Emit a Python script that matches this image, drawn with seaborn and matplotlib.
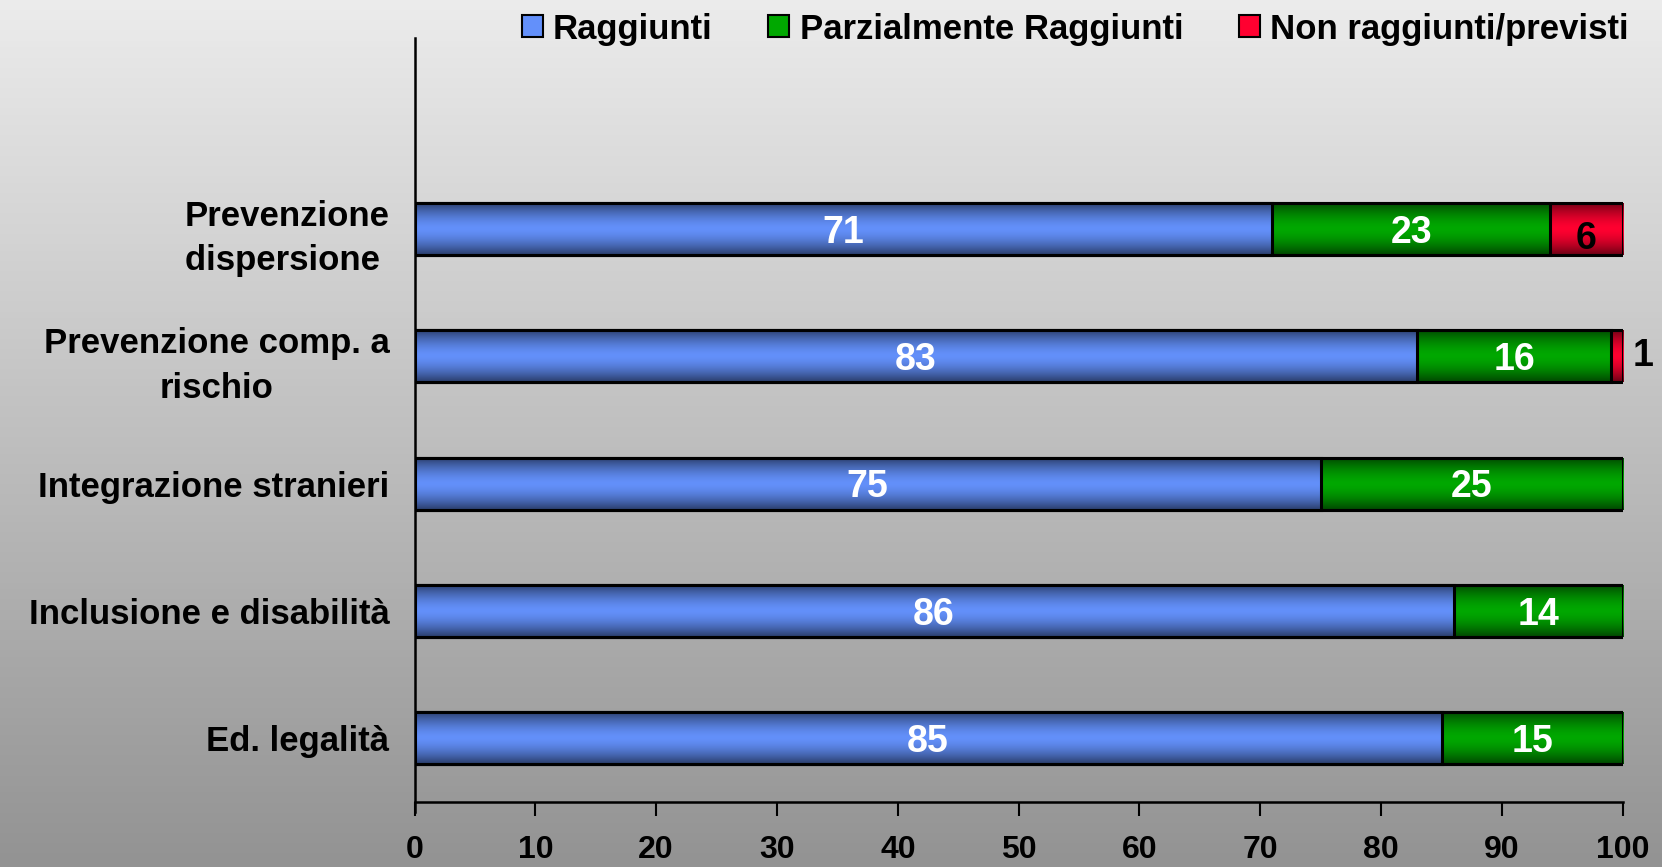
import numpy as np
import pandas as pd
import matplotlib
matplotlib.use("Agg")
import matplotlib.pyplot as plt
import seaborn as sns
from matplotlib.colors import to_rgb
from matplotlib.patches import Patch

categories = ["Prevenzione\ndispersione ", "Prevenzione comp. a\nrischio",
              "Integrazione stranieri", "Inclusione e disabilità", "Ed. legalità"]
raggiunti = [71, 83, 75, 86, 85]
parziali = [23, 16, 25, 14, 15]
non_ragg = [6, 1, 0, 0, 0]
series_names = ["Raggiunti", "Parzialmente Raggiunti", "Non raggiunti/previsti"]
xticks = [0, 10, 20, 30, 40, 50, 60, 70, 80, 90, 100]

colors = ["#6390FA", "#00A800", "#FF0030"]

sns.set_theme(style="white")
plt.rcParams['font.family'] = ['Liberation Sans', 'DejaVu Sans']
plt.rcParams['text.color'] = 'black'
plt.rcParams['xtick.color'] = 'black'
plt.rcParams['ytick.color'] = 'black'
plt.rcParams['xtick.labelcolor'] = 'black'
plt.rcParams['ytick.labelcolor'] = 'black'

W, H = 1662, 867
fig = plt.figure(figsize=(W / 100, H / 100), dpi=100)

# background gradient
bg = fig.add_axes([0, 0, 1, 1], zorder=-10)
grad = np.linspace(0, 1, 256)[:, None]
top = np.array([0.925, 0.925, 0.925])
bot = np.array([0.575, 0.575, 0.575])
img = top[None, None, :] * (1 - grad[:, :, None]) + bot[None, None, :] * grad[:, :, None]
bg.imshow(img, aspect="auto", extent=[0, 1, 0, 1])
bg.set_axis_off()

left = 414.5 / W
right = 1622.8 / W
bottom = (H - 802) / H
topf = (H - 38) / H
ax = fig.add_axes([left, bottom, right - left, topf - bottom])
ax.patch.set_alpha(0)

df = pd.DataFrame({"cat": categories, "r": raggiunti, "p": parziali, "n": non_ragg})
df["c1"] = df["r"]
df["c2"] = df["r"] + df["p"]
df["c3"] = df["r"] + df["p"] + df["n"]

layers = [("c3", colors[2]), ("c2", colors[1]), ("c1", colors[0])]
bar_w = 0.41
layer_patches = []
for col, colr in layers:
    n_before = len(ax.patches)
    sns.barplot(data=df, x=col, y="cat", orient="h", color=colr, width=bar_w,
                edgecolor="black", linewidth=2.2, saturation=1, ax=ax)
    layer_patches.append((colr, ax.patches[n_before:]))

# gradient shading clipped to bars
z = 2
for colr, patches in layer_patches:
    c = np.array(to_rgb(colr))
    dark = c * 0.42
    t = np.linspace(0, 1, 100)
    prof = 1 - (np.abs(t - 0.5) * 2) ** 1.6
    g = dark[None, :] * (1 - prof[:, None]) + c[None, :] * prof[:, None]
    g = g[:, None, :]
    for p in patches:
        x0, y0 = p.get_x(), p.get_y()
        w, h = p.get_width(), p.get_height()
        if w <= 0:
            continue
        im = ax.imshow(g, aspect="auto", extent=[x0, x0 + w, y0 + h, y0],
                       zorder=z, interpolation="bilinear")
        im.set_clip_path(p)
        p.set_facecolor("none")
        p.set_zorder(z + 0.5)
    z += 1

ax.set_xlim(0, 100)
ax.set_ylim(4.5, -1.5)
ax.set_xlabel("")
ax.set_ylabel("")
ax.set_xticks(xticks)
ax.set_xticklabels([str(v) for v in xticks], fontsize=23, fontweight="bold",
                   family=["Liberation Sans Narrow", "Liberation Sans"])
ax.set_yticks(range(len(categories)))
ax.set_yticklabels(categories, fontsize=25, fontweight="bold", ha="right",
                   multialignment="center", color="black", linespacing=1.45)
ax.tick_params(axis="y", length=0, pad=18)
ax.tick_params(axis="x", length=10, width=1.5, color="black", direction="out",
               bottom=True, pad=14)
for s in ["top", "right"]:
    ax.spines[s].set_visible(False)
for s in ["left", "bottom"]:
    ax.spines[s].set_color("black")
    ax.spines[s].set_linewidth(1.8)
ax.spines["left"].set_bounds(4.58, -1.5)
ax.set_xlim(0, 100)

# value labels
dy = 0.03
for i in range(len(categories)):
    r, p, n = raggiunti[i], parziali[i], non_ragg[i]
    ax.text(r / 2, i + dy, str(r), ha="center", va="center", color="white",
            fontsize=27, fontweight="bold", zorder=10)
    ax.text(r + p / 2, i + dy, str(p), ha="center", va="center", color="white",
            fontsize=27, fontweight="bold", zorder=10)
    if n >= 3:
        ax.text(r + p + n / 2, i + 0.08, str(n), ha="center", va="center", color="black",
                fontsize=27, fontweight="bold", zorder=10)
    elif n > 0:
        ax.text(100.8, i, str(n), ha="left", va="center", color="black",
                fontsize=27, fontweight="bold", zorder=10, clip_on=False)

handles = [Patch(facecolor=c, edgecolor="black", linewidth=1.5) for c in colors]
leg = fig.legend(handles, series_names, loc="center right",
                 bbox_to_anchor=(1646 / W, 1 - 29 / H), ncol=3, frameon=False,
                 prop={"family": ["Liberation Sans Narrow", "Liberation Sans"],
                       "weight": "bold", "size": 25},
                 handlelength=0.6, handleheight=0.6, handletextpad=0.3,
                 columnspacing=1.6, borderpad=0)
for t in leg.get_texts():
    t.set_color("black")

fig.savefig("out.png", dpi=100)
